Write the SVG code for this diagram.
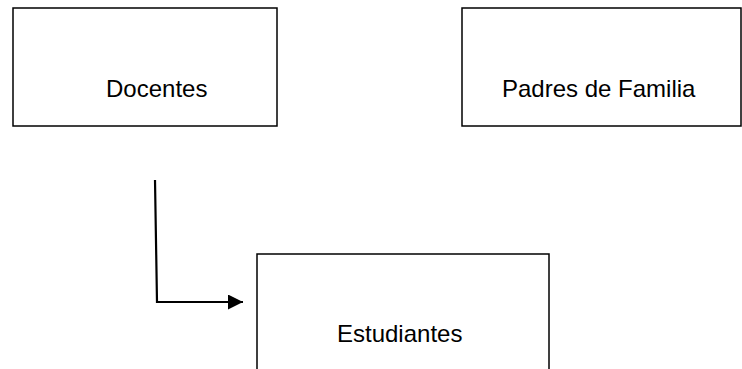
<svg xmlns="http://www.w3.org/2000/svg" width="742" height="369" viewBox="0 0 742 369">
<style>
.box{fill:#fff;stroke:#000;stroke-width:1.5}
.lbl{font-family:"Liberation Sans",Arial,sans-serif;font-size:24px;fill:#000}
.conn{fill:none;stroke:#000;stroke-width:2.2}
</style>
<defs>
<marker id="arr" viewBox="0 0 15 15" refX="15" refY="7.5" markerWidth="15" markerHeight="15" markerUnits="userSpaceOnUse" orient="auto">
<path d="M0,0 L15,7.5 L0,15 Z" fill="#000"/>
</marker>
</defs>
<rect width="742" height="369" fill="#fff"/>
<g id="docentes">
<rect class="box" x="13" y="8" width="264" height="118"/>
<text class="lbl" x="106" y="97">Docentes</text>
</g>
<g id="padres">
<rect class="box" x="462" y="8" width="279" height="118"/>
<text class="lbl" x="502" y="97">Padres de Familia</text>
</g>
<g id="estudiantes">
<rect class="box" x="257" y="254" width="292" height="130"/>
<text class="lbl" x="337" y="342">Estudiantes</text>
</g>
<g id="connectors">
<path class="conn" d="M155,180 L157,302 L243,302" marker-end="url(#arr)"/>
</g>
</svg>
